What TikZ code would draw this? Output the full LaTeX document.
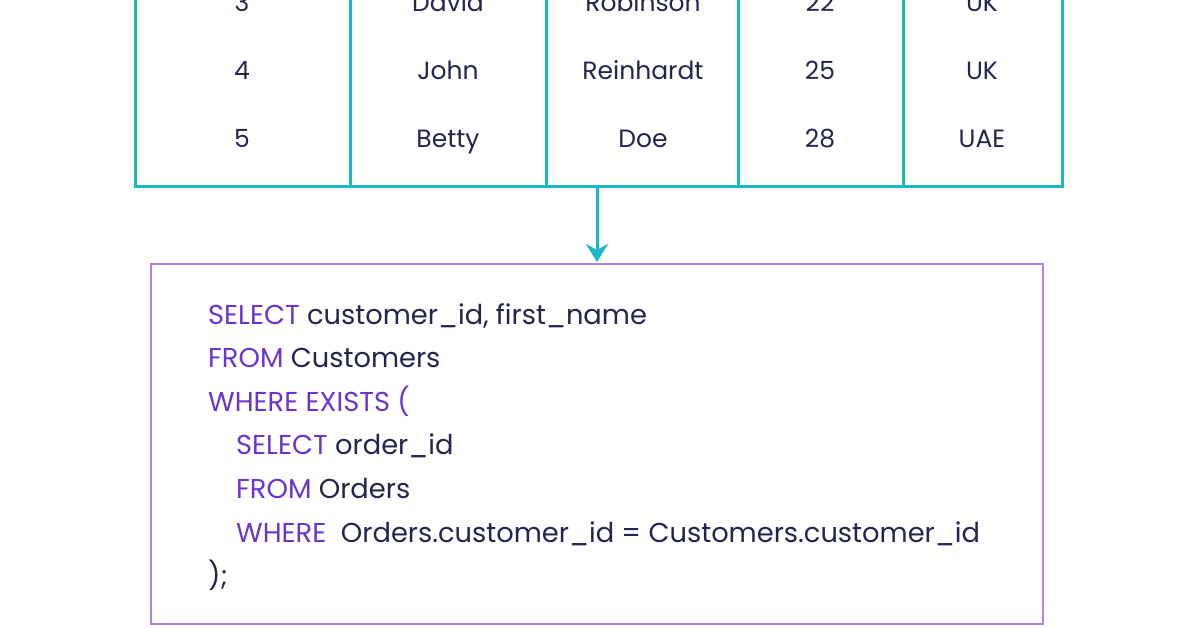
\documentclass[tikz,border=0pt]{standalone}
\usepackage{fontspec}
\setmainfont{Poppins}
\usetikzlibrary{positioning,arrows.meta}
\definecolor{tealline}{HTML}{1CB8C8}
\definecolor{boxline}{HTML}{B67FE3}
\definecolor{keyword}{HTML}{6A35CF}
\definecolor{ink}{HTML}{23254F}
\tikzset{
  cell/.style={text=ink, font=\fontsize{25}{28}\selectfont, anchor=base, inner sep=0pt},
  code/.style={text=ink, font=\fontsize{27.3}{30}\selectfont, anchor=base west, inner sep=0pt},
}
\newcommand{\kw}[1]{\textcolor{keyword}{#1}}
\begin{document}
\begin{tikzpicture}[x=1pt, y=-1pt, >=Stealth]
\useasboundingbox[fill=white] (0,0) rectangle (1196,628);
\begin{scope}
\clip (0,0) rectangle (1196,628);

% Table (top rows outside the picture)
\draw[tealline, line width=3pt] (135,-20) -- (135,187) -- (1062,187) -- (1062,-20);
\foreach \x in {350,546,738,903}
  \draw[tealline, line width=3pt] (\x,-20) -- (\x,187);

% Rows
\foreach \i/\f/\l/\a/\c [count=\r] in {3/David/Robinson/22/UK, 4/John/Reinhardt/25/UK, 5/Betty/Doe/28/UAE} {
  \node[cell] (id\r) at (242,{12+68*(\r-1)}) {\i};
  \node[cell] (first\r) at (448,{12+68*(\r-1)}) {\f};
  \node[cell] (last\r) at (643,{12+68*(\r-1)}) {\l};
  \node[cell] (age\r) at (820,{12+68*(\r-1)}) {\a};
  \node[cell] (country\r) at (982,{12+68*(\r-1)}) {\c};
}
\coordinate (tbottom) at (597,187);

% Query box
\draw[boxline, line width=2.4pt] (151,264) rectangle (1043,624);
\coordinate (qtop) at (597,262);
\draw[-{Stealth[length=18pt,width=22pt]}, tealline, line width=3pt] (tbottom) -- (qtop);

% Query text
\node[code] (q1) at (208,324) {\kw{SELECT} customer\_id, first\_name};
\node[code] (q2) at (208,367) {\kw{FROM} Customers};
\node[code] (q3) at (208,411) {\kw{WHERE EXISTS (}};
\node[code] (q4) at (236,454) {\kw{SELECT} order\_id};
\node[code] (q5) at (236,498) {\kw{FROM} Orders};
\node[code] (q6) at (236,542) {\kw{WHERE}\ \ Orders.customer\_id = Customers.customer\_id};
\node[code] (q7) at (208,585) {);};
\end{scope}
\end{tikzpicture}
\end{document}
